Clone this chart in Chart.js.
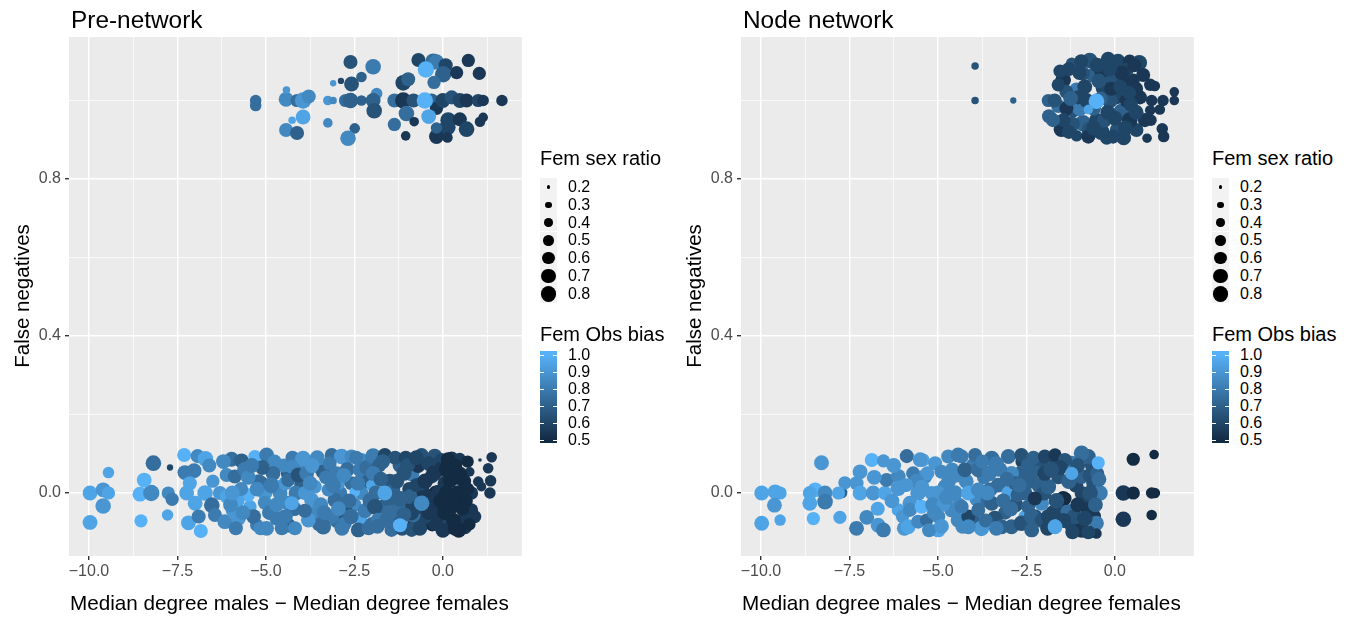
<!DOCTYPE html>
<html>
<head>
<meta charset="utf-8">
<script src="https://cdn.jsdelivr.net/npm/chart.js@4.4.0/dist/chart.umd.min.js"></script>
<style>
body { margin: 0; background: #fff; font-family: "Liberation Sans", Arial, sans-serif; }
#wrap { position: relative; width: 1354px; height: 617px; overflow: hidden; }
canvas { position: absolute; top: 0; }
.title { position: absolute; top: 6px; font-size: 24.4px; line-height: 28px; color: #000; white-space: nowrap; }
.xlab { position: absolute; top: 591px; font-size: 20.7px; line-height: 24px; white-space: nowrap; }
.ylab { position: absolute; top: 284px; width: 300px; font-size: 20.5px; line-height: 24px; text-align: center; transform: rotate(-90deg); white-space: nowrap; }
.leg { position: absolute; top: 0; width: 150px; height: 617px; }
.legtitle { position: absolute; left: 0; font-size: 20px; line-height: 24px; white-space: nowrap; }
.key { position: absolute; left: 0; width: 17px; height: 17px; background: #f2f2f2; }
.dot { position: absolute; background: #000; border-radius: 50%; }
.leglab { position: absolute; left: 28px; font-size: 16px; line-height: 18px; color: #000; }
.bar { position: absolute; left: 0; width: 17px; }
.btick { position: absolute; height: 1px; width: 4px; background: #fff; }
</style>
</head>
<body>
<div id="wrap">
  <canvas id="pre" width="530" height="617" style="left:0px"></canvas>
  <canvas id="node" width="530" height="617" style="left:672px"></canvas>
  <div class="title" style="left:71px">Pre-network</div>
  <div class="title" style="left:743px">Node network</div>
  <div class="xlab" style="left:70px">Median degree males − Median degree females</div>
  <div class="xlab" style="left:742px">Median degree males − Median degree females</div>
  <div class="ylab" style="left:-128px">False negatives</div>
  <div class="ylab" style="left:544px">False negatives</div>
  <div class="leg" id="legPre" style="left:540px"></div>
  <div class="leg" id="legNode" style="left:1212px"></div>
</div>
<script>
// each point: [median degree diff, false negatives, fem sex ratio, fem obs bias]
const preTop = [
  [-5.29,1.0,.55,.75],[-5.29,0.987,.55,.75],[-4.43,1.003,.75,.85],[-4.42,1.027,.35,.9],[-4.12,1.0,.65,.75],
  [-3.95,1.0,.85,.9],[-3.79,1.01,.7,.85],[-3.95,0.958,.75,.95],[-4.26,0.95,.35,.95],[-4.43,0.925,.7,.85],
  [-4.12,0.917,.7,.7],[-3.25,1.0,.45,.9],[-3.1,1.0,.35,.85],[-3.25,0.943,.45,.85],[-3.1,1.044,.3,.9],
  [-2.88,1.05,.3,.6],[-2.61,1.098,.7,.65],[-2.58,1.042,.75,.65],[-2.3,1.06,.5,.7],[-2.75,1.0,.65,.75],
  [-2.61,1.0,.8,.7],[-2.3,1.0,.5,.7],[-1.97,1.086,.8,.8],[-1.87,1.018,.55,.85],[-1.97,1.0,.75,.7],
  [-1.94,0.974,.8,.65],[-2.49,0.929,.5,.7],[-2.68,0.904,.8,.85],[-1.37,1.0,.7,.75],[-1.37,0.939,.65,.75],
  [-1.12,1.045,.8,.6],[-0.98,1.054,.7,.7],[-1.12,1.0,.85,.55],[-1.03,0.967,.8,.75],[-0.81,0.946,.45,.55],
  [-1.05,0.91,.45,.55],[-0.69,1.103,.7,.6],[-0.27,1.099,.85,.75],[-0.18,1.099,.75,.8],[0.08,1.09,.7,.6],
  [0.01,1.067,.85,.7],[-0.25,1.046,.65,.75],[0.39,1.071,.65,.55],[0.72,1.102,.65,.55],[1.03,1.069,.65,.55],
  [-0.83,1.0,.7,.65],[-0.32,1.0,.7,.7],[-0.18,0.98,.65,.55],[0.0,1.0,.75,.6],
  [0.25,1.008,.7,.65],[0.48,1.0,.75,.6],[0.67,1.0,.7,.55],[1.0,1.0,.65,.6],[1.14,1.0,.55,.55],
  [1.67,1.0,.55,.55],[0.15,0.95,.8,.6],[0.13,0.932,.85,.6],
  [0.48,0.952,.7,.55],[0.67,0.927,.8,.6],[-0.18,0.908,.75,.55],[0.13,0.906,.5,.55],[1.05,0.946,.5,.55],
  [1.14,0.957,.45,.55],[-0.18,0.93,.55,.7],[-0.48,1.079,.85,1.0],[-0.51,1.0,.85,1.0],[-0.4,0.959,.75,.95]
];
const preLow = [
  [-9.97,0.0,.75,.95],[-9.6,0.008,.75,.9],[-9.45,0.0,.65,.95],[-9.6,-0.033,.8,.9],[-9.45,0.052,.55,.95],
  [-9.97,-0.075,.75,.95],[-8.56,-0.003,.75,1.0],[-8.24,0.0,.85,.85],[-8.44,0.033,.75,1.0],[-8.18,0.076,.8,.75],
  [-7.71,0.065,.3,.6],[-8.53,-0.071,.65,1.0],[-7.76,0.0,.65,.85],[-7.65,-0.016,.65,.8],[-7.78,-0.056,.55,.95],
  [-7.31,0.097,.7,1.0],[-6.93,0.094,.7,.85],[-6.71,0.087,.8,.95],[-7.29,0.052,.75,.8],[-7.03,0.057,.75,.8],
  [-7.15,0.025,.7,.95],[-7.24,0.0,.75,.95],[-6.72,0.0,.8,.95],[-7.0,-0.026,.75,.95],[-6.53,-0.031,.8,.75],
  [-7.19,-0.076,.75,.95],[-6.84,-0.097,.7,1.0],[-6.44,-0.056,.7,.8],[-6.16,-0.073,.75,.85],[-6.11,0.046,.7,.85],
  [-6.5,0.03,.65,.9],[-6.3,0.0,.7,.9],[-6.6,0.07,.7,.85],[-6.9,-0.06,.7,.8],
  [-5.88,0.042,.7,.75],[-5.97,0.086,.75,.75],[-5.69,0.082,.75,.7],[-6.11,-0.009,.7,.95],[-5.92,-0.043,.8,.9],
  [-5.78,-0.065,.75,.9],[-5.45,-0.035,.65,.95],[-5.5,-0.005,.65,1.0],[-5.26,-0.082,.65,.8],[-5.31,0.093,.65,1.0],
  [-4.98,0.097,.75,.8],[-4.75,0.08,.7,.85],[-5.08,0.029,.45,.7],[-4.65,0.012,.85,.95],[-5.03,0.0,.75,.9],
  [-5.03,-0.025,.7,.85],[-4.7,-0.065,.7,.8],[-4.98,-0.09,.75,.85],[-4.37,0.05,.75,.7],[-4.37,-0.026,.75,.85],
  [-4.37,-0.082,.75,.7],[-5.6,0.06,.75,.8],[-5.2,0.03,.7,.75],[-4.9,-0.05,.75,.8],[-4.5,0.07,.7,.85],
  [-4.2,-0.04,.75,.75],[-5.8,-0.02,.7,.95],[-4.6,0.0,.75,.85],[-4.0,0.02,.7,.7],
  [-5.5,0.04,.75,.85],[-5.35,-0.06,.75,.75],[-5.7,0.01,.7,.85],[-5.15,-0.09,.7,.85],[-4.8,0.05,.75,.75],
  [-4.55,-0.09,.7,.8],[-4.25,0.09,.7,.8],[-4.45,0.025,.7,.9],[-5.85,-0.09,.7,.8],[-5.1,0.065,.75,.7],
  [-6.2,0.08,.75,.85],[-6.0,-0.03,.75,.85],[-5.65,-0.05,.75,.85],[-5.4,0.07,.75,.8],[-5.25,0.01,.75,.85],
  [-4.85,0.02,.8,.8],[-4.7,-0.03,.75,.85],[-4.45,-0.06,.75,.8],[-4.15,0.0,.75,.8],[-4.05,0.075,.7,.85],
  [-5.95,0.0,.75,.9],
  [-3.95,0.088,.8,.9],[-4.27,0.067,.7,.85],[-4.37,0.033,.7,.75],[-4.09,0.046,.75,.65],
  [-3.52,0.067,.7,.9],[-3.38,0.054,.75,.7],[-3.14,0.097,.7,.75],[-2.86,0.093,.8,.9],[-2.58,0.093,.7,.85],
  [-2.3,0.084,.7,.85],[-3.6,-0.05,.75,.85],[-3.3,0.04,.7,.8],[-3.0,-0.07,.75,.75],[-2.7,0.06,.75,.75],
  [-2.5,-0.03,.7,.85],[-2.2,0.03,.75,.7],[-2.9,0.0,.7,.8],[-3.5,-0.08,.7,.75],[-2.45,0.09,.7,.8],
  [-2.77,-0.048,.8,.65],[-2.34,-0.065,.7,.95],[-2.39,-0.094,.75,.7],[-2.77,-0.077,.7,.8],[-3.14,-0.06,.75,.8],
  [-3.38,-0.086,.8,.75],[-3.8,-0.069,.75,.9],[-4.18,-0.09,.7,.85],[-3.71,-0.018,.75,.9],[-4.27,-0.026,.7,.95],
  [-3.05,-0.018,.75,.75],[-2.96,0.025,.7,.9],[-2.58,0.025,.7,.75],[-3.24,0.008,.65,.85],[-3.62,0.016,.7,.9],
  [-3.9,0.0,.7,.9],[-2.34,0.059,.75,.8],[-2.01,0.02,.55,.95],[-2.3,0.0,.7,.85],[-2.49,0.003,.5,1.0],
  [-3.85,0.05,.75,.8],[-3.45,-0.03,.75,.85],[-3.2,0.075,.7,.8],[-2.65,-0.02,.75,.75],[-3.9,-0.045,.7,.75],
  [-2.2,-0.045,.75,.8],[-3.0,0.05,.7,.8],[-2.1,-0.09,.7,.75],
  [-3.75,0.025,.75,.85],[-3.55,0.09,.75,.85],[-3.35,-0.05,.75,.8],[-3.1,0.02,.8,.8],[-2.85,-0.09,.75,.8],
  [-2.8,0.045,.75,.85],[-2.6,-0.06,.8,.75],[-2.4,0.025,.75,.8],[-2.15,0.065,.75,.75],[-2.05,-0.02,.8,.75],
  [-2.95,-0.04,.75,.85],[-3.7,0.07,.75,.9],
  [-1.97,0.094,.8,.8],[-1.64,0.097,.7,.6],[-1.21,0.071,.75,.7],[-0.88,0.05,.8,.8],
  [-0.6,0.097,.7,.65],[-0.23,0.094,.75,.65],[-0.04,0.084,.7,.6],
  [-2.0,-0.08,.75,.75],[-1.8,0.07,.7,.7],[-1.5,0.03,.75,.65],[-1.3,-0.06,.7,.7],
  [-1.1,0.05,.75,.65],[-1.0,-0.02,.7,.6],[-0.8,-0.07,.75,.6],[-0.7,0.07,.75,.55],[-0.45,-0.03,.75,.55],
  [-0.3,-0.08,.7,.5],[-0.1,0.06,.75,.55],[-0.2,0.0,.75,.5],[-0.55,0.0,.75,.55],
  [-0.95,0.01,.7,.6],[-1.9,0.0,.75,.75],
  [-0.23,-0.077,.75,.55],[-0.51,-0.06,.75,.6],[-0.13,0.003,.7,.55],[-0.6,0.025,.7,.65],
  [-0.32,0.042,.7,.6],[-0.93,-0.009,.75,.7],[-0.84,-0.056,.75,.75],[-1.26,-0.035,.7,.75],
  [-0.88,-0.094,.7,.65],[-1.69,-0.035,.75,.75],[-1.4,0.008,.7,.7],
  [-1.92,-0.035,.8,.65],[-1.83,-0.069,.75,.8],[-1.45,-0.094,.7,.75],[-1.97,0.05,.75,.8],
  [-1.6,-0.07,.75,.75],[-1.15,-0.09,.75,.65],[-0.7,-0.035,.75,.6],[-0.4,0.075,.75,.6],[-1.35,0.09,.7,.65],
  [-1.75,0.035,.75,.7],[-0.15,-0.045,.75,.55],[-0.75,0.02,.7,.6],[-1.05,0.09,.7,.6],[-0.35,-0.015,.75,.55],
  [-1.55,-0.015,.75,.7],
  [-1.85,-0.085,.75,.75],[-1.7,0.08,.75,.7],[-1.5,-0.05,.8,.75],[-1.3,0.03,.75,.65],[-1.2,-0.015,.8,.7],
  [-1.0,0.07,.75,.65],[-0.9,-0.05,.8,.6],[-0.75,0.09,.75,.6],[-0.65,-0.09,.75,.6],[-0.5,0.03,.8,.55],
  [-0.4,-0.05,.75,.55],[-0.25,0.05,.8,.55],[-0.05,-0.02,.8,.5],[-0.1,-0.07,.8,.55],[-1.1,-0.055,.75,.7],
  [0.25,0.088,.7,.55],[0.48,0.088,.55,.55],
  [1.05,0.084,.2,.55],[1.38,0.091,.5,.55],[0.76,0.054,.45,.55],[1.28,0.063,.5,.55],[1.0,0.029,.5,.55],
  [1.35,0.031,.55,.55],[1.33,0.0,.55,.55],[1.09,0.016,.45,.55],[0.81,0.0,.65,.55],[0.43,0.0,.8,.5],
  [0.34,-0.022,.85,.5],[0.81,-0.043,.65,.55],[0.57,-0.069,.75,.55],[0.62,-0.086,.75,.55],[0.15,-0.086,.8,.6],
  [0.06,0.025,.75,.55],[0.05,-0.05,.75,.5],[0.2,0.03,.7,.5],[0.3,-0.07,.75,.5],
  [0.5,0.05,.65,.5],[0.65,-0.02,.7,.5],[0.9,-0.06,.65,.55],
  [0.1,0.06,.75,.5],[0.35,0.07,.7,.5],[0.6,0.03,.7,.5],[0.2,-0.04,.75,.5],[0.45,-0.095,.75,.5],
  [0.7,0.08,.6,.5],[0.0,-0.095,.75,.55],[0.1,0.0,.75,.5],
  [0.15,0.085,.75,.5],[0.25,-0.02,.8,.5],[0.4,0.04,.75,.5],[0.55,-0.04,.7,.5],[0.7,0.01,.65,.5],
  [0.35,-0.09,.75,.5],[0.75,-0.08,.6,.5],
  [-1.21,-0.082,.7,1.0],[-1.64,0.0,.75,.95],[-0.6,-0.026,.8,.85]
];
const nodeTop = [
  [-3.95,1.088,.35,.65],[-3.95,1.0,.35,.65],[-2.87,1.0,.3,.7],[-1.88,1.0,.65,.7],[-1.86,0.96,.7,.7],
  [-1.51,0.927,.8,.55],[-1.46,1.052,.8,.55],[-1.22,1.095,.55,.65],[-1.03,1.095,.5,.65],[-0.71,1.102,.8,.65],
  [-0.19,1.105,.75,.6],[0.09,1.1,.75,.6],[0.42,1.099,.7,.55],[0.69,1.096,.8,.6],[-0.61,1.065,.75,.7],
  [-0.14,1.052,.8,.65],[0.28,1.04,.75,.55],[0.52,1.052,.65,.55],[1.13,1.037,.5,.55],[1.68,1.022,.45,.55],
  [1.68,1.0,.45,.55],[1.36,1.0,.55,.55],[1.04,1.0,.55,.55],[0.71,1.008,.7,.55],[-1.08,1.026,.8,.8],
  [-1.37,1.022,.7,.65],[-1.6,0.986,.7,.75],[-1.18,0.976,.75,.65],[-0.9,0.942,.85,.7],[-0.71,0.925,.85,.65],
  [-1.08,0.91,.55,.6],[-0.38,0.92,.85,.6],[0.09,0.925,.85,.65],[-0.05,0.908,.7,.6],[0.52,0.967,.7,.6],
  [0.19,0.971,.85,.7],[0.05,1.008,.7,.6],[-0.14,1.0,.8,.65],[-0.33,1.031,.75,.6],[0.33,1.0,.7,.55],
  [0.61,0.925,.7,.6],[0.91,0.904,.45,.55],[1.34,0.928,.55,.55],[1.38,0.908,.55,.55],[1.02,0.95,.55,.55],
  [1.27,0.977,.5,.55],[1.0,0.975,.5,.55],[-0.9,1.069,.7,.65],[-0.38,1.073,.7,.55],[0.33,1.078,.7,.6],
  [0.05,1.044,.7,.65],[-0.99,0.98,.8,.8],[-1.04,1.008,.7,.6],[-1.37,0.98,.7,.55],[-0.75,0.908,.7,.55],
  [-0.23,0.904,.65,.6],[0.42,0.95,.8,.55],[-0.52,0.95,.75,.6],[-1.3,1.08,.7,.6],[-0.5,1.09,.75,.6],
  [0.2,1.07,.75,.55],[-0.3,0.95,.75,.65],[0.3,0.93,.75,.6],[-1.2,0.94,.75,.65],[-0.1,1.03,.7,.55],
  [0.6,1.03,.7,.55],[-0.8,1.0,.75,.6],[0.85,0.95,.7,.55],[-1.6,1.04,.65,.6],
  [-0.6,0.98,.75,.7],[-0.2,0.97,.75,.6],[0.4,1.02,.7,.6],[-1.0,1.07,.7,.6],[-0.4,1.005,.7,.7],
  [0.0,0.955,.75,.6],[-0.85,1.035,.75,.6],[0.15,1.035,.7,.6],[-1.45,0.95,.7,.6],[0.8,1.065,.7,.55],
  [-0.45,1.05,.75,.65],[-1.25,1.005,.75,.7],
  [-1.7,1.0,.7,.65],[-1.55,1.075,.65,.6],[-0.95,1.1,.7,.6],[0.55,1.09,.7,.55],[-0.15,1.08,.75,.6],
  [0.6,0.97,.75,.6],[-0.6,0.93,.75,.6],[-1.3,0.92,.7,.6],[0.25,0.905,.75,.6],[1.0,1.04,.6,.55],
  [-1.75,0.95,.7,.7],[0.45,0.99,.7,.6],
  [-0.52,0.998,.8,1.0],[-0.75,0.977,.45,.95]
];
const nodeLow = [
  [-9.98,0.0,.75,.95],[-9.6,0.003,.75,.95],[-9.46,0.0,.65,.95],[-9.62,-0.031,.75,.9],[-9.98,-0.077,.75,.95],
  [-9.46,-0.069,.55,.95],[-8.29,0.077,.75,.9],[-8.47,0.008,.75,1.0],[-8.62,0.0,.7,.95],[-8.19,0.0,.75,.85],
  [-8.19,-0.022,.8,.8],[-8.62,-0.026,.75,.95],[-8.52,-0.065,.65,1.0],[-7.77,-0.062,.65,.95],[-7.72,0.001,.55,.7],
  [-7.63,0.026,.65,.9],[-7.81,0.0,.65,.95],[-7.2,0.054,.75,.9],[-6.87,0.084,.7,1.0],[-6.54,0.082,.65,.9],
  [-7.3,0.025,.7,.9],[-7.2,0.0,.75,.95],[-6.83,0.0,.75,.9],[-6.5,0.0,.7,.95],[-6.45,0.033,.7,.8],
  [-6.12,0.042,.75,.85],[-5.88,0.094,.7,.75],[-7.3,-0.09,.75,.8],[-7.01,-0.062,.75,.85],[-6.69,-0.082,.75,.9],
  [-6.54,-0.094,.75,.8],[-6.12,-0.043,.65,.95],[-6.0,-0.06,.65,.9],
  [-6.8,0.04,.75,.9],[-6.3,-0.02,.75,.9],[-6.25,0.07,.75,.9],[-6.7,-0.04,.7,.95],[-5.95,-0.09,.75,.9],
  [-5.79,-0.026,.75,.9],[-5.79,-0.043,.7,.85],[-5.84,-0.086,.75,.95],
  [-5.56,-0.073,.7,.85],[-5.32,-0.069,.65,.75],[-4.99,-0.094,.75,.95],[-4.99,-0.06,.7,.85],[-5.46,-0.035,.7,1.0],
  [-5.42,0.084,.65,.95],[-5.08,0.076,.7,.9],[-4.9,0.054,.7,.85],[-4.71,0.093,.7,.85],[-4.43,0.097,.75,.8],
  [-5.7,0.05,.7,.8],[-5.37,0.042,.75,.85],[-6.12,0.012,.8,.9],[-5.56,0.0,.8,.9],[-5.18,0.0,.7,.9],
  [-4.8,0.016,.75,.85],[-4.52,0.0,.8,.85],[-4.61,-0.043,.75,.85],[-4.43,-0.069,.75,.85],
  [-4.7,0.03,.75,.85],[-4.4,-0.03,.7,.85],[-5.0,0.0,.75,.9],[-5.3,0.05,.7,.9],
  [-5.6,0.03,.75,.85],[-5.15,-0.03,.75,.85],[-4.85,-0.03,.7,.9],[-5.25,-0.095,.7,.85],[-4.6,0.06,.7,.85],
  [-5.9,0.02,.7,.9],
  [-5.5,0.085,.75,.9],[-5.45,0.015,.75,.9],[-5.1,-0.05,.75,.85],[-4.9,-0.085,.75,.9],[-4.75,-0.01,.8,.85],
  [-4.5,0.045,.75,.85],[-4.3,-0.085,.75,.85],[-4.2,0.03,.75,.85],[-4.0,0.07,.75,.8],[-3.9,-0.015,.75,.85],
  [-4.0,-0.07,.75,.7],[-3.7,0.04,.7,.8],[-3.3,0.02,.75,.75],
  [-3.1,-0.05,.7,.7],[-2.8,-0.03,.75,.65],[-2.4,0.03,.75,.7],[-2.1,0.07,.7,.65],
  [-3.6,-0.02,.7,.75],[-2.6,0.08,.75,.6],
  [-2.54,-0.06,.65,.95],[-2.54,0.0,.75,.7],[-2.64,0.05,.8,.7],[-2.92,0.05,.75,.85],[-3.01,0.0,.7,.95],
  [-2.92,-0.086,.75,.7],[-3.39,-0.065,.8,.65],[-3.2,-0.086,.75,.7],[-3.48,-0.026,.75,.7],[-3.53,0.008,.75,.75],
  [-3.48,0.088,.8,.75],[-3.01,0.093,.75,.75],[-2.64,0.097,.7,.65],[-3.95,0.097,.7,.75],[-4.33,0.093,.7,.8],
  [-4.24,0.059,.75,.7],[-3.86,0.059,.75,.75],[-4.14,0.0,.75,.95],[-3.86,0.008,.75,.85],[-4.14,-0.06,.7,.6],
  [-4.33,-0.035,.7,.8],[-3.77,-0.09,.8,.9],[-4.14,-0.086,.75,.85],[-3.86,-0.043,.7,.75],[-2.82,0.025,.7,.7],
  [-2.64,-0.077,.8,.65],[-2.35,-0.094,.75,.7],[-2.26,0.054,.7,.7],[-2.07,-0.026,.75,.85],[-2.26,-0.06,.75,.65],
  [-3.25,0.06,.75,.8],[-3.65,-0.07,.7,.75],[-2.75,-0.005,.7,.7],[-3.15,-0.02,.75,.75],[-2.45,-0.035,.7,.7],
  [-3.75,0.08,.7,.8],
  [-3.55,0.05,.8,.8],[-3.35,-0.09,.75,.8],[-3.35,0.075,.75,.8],[-3.05,0.035,.75,.75],[-2.95,-0.04,.8,.75],
  [-2.7,0.02,.75,.75],[-2.45,0.07,.75,.7],[-2.35,-0.06,.8,.7],[-2.15,0.02,.75,.7],[-2.05,-0.07,.75,.65],
  [-3.6,0.0,.75,.85],[-2.3,0.09,.7,.7],
  [-1.9,-0.09,.75,.6],[-1.6,0.04,.7,.65],[-1.5,-0.04,.75,.6],[-1.1,0.02,.75,.6],[-0.8,-0.03,.75,.6],
  [-0.65,0.07,.7,.65],[-0.6,-0.06,.75,.55],[-1.25,-0.08,.7,.6],[-2.0,0.0,.75,.65],[-1.7,0.09,.7,.6],
  [-0.75,0.093,.75,.7],[-0.61,0.025,.7,.65],
  [-0.42,0.0,.8,.8],[-0.75,-0.043,.8,.55],[-0.52,-0.077,.75,.8],[-0.94,-0.094,.8,.55],[-0.52,-0.103,.5,.55],
  [-1.46,-0.014,.75,.5],[-1.22,0.076,.75,.8],[-0.94,0.101,.8,.75],[-1.32,-0.048,.8,.75],
  [-1.98,0.093,.7,.6],[-1.69,0.097,.65,.55],[-1.88,0.016,.8,.7],[-1.98,0.05,.75,.6],
  [-1.88,-0.06,.75,.6],[-2.26,-0.014,.7,.55],[-1.41,-0.014,.65,.5],[-0.94,0.0,.7,.6],[-0.94,0.042,.75,.7],
  [-1.41,0.084,.7,.65],
  [-1.15,-0.06,.75,.65],[-0.7,0.045,.75,.65],[-1.75,-0.05,.75,.6],[-1.55,0.065,.75,.6],[-0.5,0.05,.7,.7],
  [-1.05,-0.03,.75,.55],
  [-1.8,0.06,.8,.65],[-1.65,-0.02,.8,.65],[-1.45,-0.07,.75,.6],[-1.3,0.03,.8,.7],[-1.05,0.07,.75,.65],
  [-0.85,-0.065,.8,.6],[-0.7,0.0,.8,.65],[-0.55,-0.03,.75,.7],[-0.45,0.035,.75,.75],[-1.2,-0.1,.7,.6],
  [-0.75,-0.1,.7,.6],
  [0.52,0.086,.65,.5],[1.11,0.098,.45,.5],[0.24,0.0,.8,.55],[0.52,0.0,.65,.5],[1.04,0.0,.55,.5],
  [1.13,0.0,.5,.5],[0.24,-0.067,.8,.55],[1.04,-0.056,.5,.5],
  [-1.69,-0.086,.75,.95],[-1.22,0.05,.65,.95],[-0.47,0.077,.65,1.0]
];
const xTicks = [-10, -7.5, -5, -2.5, 0];
const xMinor = [-8.75, -6.25, -3.75, -1.25, 1.25];
const yTicks = [0, 0.4, 0.8];
const yMinor = [0.2, 0.6, 1.0];
const sexRatioLevels = [0.2, 0.3, 0.4, 0.5, 0.6, 0.7, 0.8];
const biasLevels = [1.0, 0.9, 0.8, 0.7, 0.6, 0.5];

const lowCol = [19, 43, 67];    // #132B43
const highCol = [86, 177, 247]; // #56B1F7

function biasColor(b) {
  let t = (b - 0.5) / 0.5;
  t = Math.max(0, Math.min(1, t));
  const c = lowCol.map((v, i) => Math.round(v + (highCol[i] - v) * t));
  return 'rgb(' + c.join(',') + ')';
}

function sizeToRadius(s) {
  return 1.8 + 6 * (Math.sqrt(s) - Math.sqrt(0.2)) / (Math.sqrt(0.8) - Math.sqrt(0.2));
}

Chart.defaults.font.family = '"Liberation Sans", Arial, sans-serif';

const panelBg = {
  id: 'panelBg',
  beforeDraw(chart) {
    const a = chart.chartArea;
    chart.ctx.save();
    chart.ctx.fillStyle = '#ebebeb';
    chart.ctx.fillRect(a.left, a.top, a.right - a.left, a.bottom - a.top);
    chart.ctx.restore();
  }
};

function fmt(v) {
  return (v < 0 ? '\u2212' : '') + Math.abs(v).toFixed(1);
}

function makePanel(id, points) {
  const majorX = v => xTicks.some(t => Math.abs(t - v) < 1e-6);
  const majorY = v => yTicks.some(t => Math.abs(t - v) < 1e-6);
  new Chart(document.getElementById(id), {
    type: 'bubble',
    data: {
      datasets: [{
        data: points.map(p => ({ x: p[0], y: p[1], r: sizeToRadius(p[2]) })),
        backgroundColor: points.map(p => biasColor(p[3])),
        borderWidth: 0,
        hoverBorderWidth: 0
      }]
    },
    options: {
      responsive: false,
      animation: false,
      events: [],
      layout: { padding: { top: 37, right: 8, left: 0, bottom: 0 } },
      plugins: { legend: { display: false }, tooltip: { enabled: false } },
      scales: {
        x: {
          type: 'linear', min: -10.565, max: 2.232,
          afterBuildTicks: s => { s.ticks = xTicks.concat(xMinor).sort((a, b) => a - b).map(v => ({ value: v })); },
          afterFit: s => { s.height = 61; },
          border: { display: false },
          grid: {
            color: '#ffffff',
            lineWidth: c => (c.tick && majorX(c.tick.value)) ? 1.4 : 0.7,
            tickColor: c => (c.tick && majorX(c.tick.value)) ? '#333333' : 'rgba(0,0,0,0)',
            tickLength: 4
          },
          ticks: {
            autoSkip: false, maxRotation: 0, padding: 2,
            color: '#4d4d4d', font: { size: 16 },
            callback: v => majorX(v) ? fmt(v) : ''
          }
        },
        y: {
          type: 'linear', min: -0.1605, max: 1.1618,
          afterBuildTicks: s => { s.ticks = yTicks.concat(yMinor).sort((a, b) => a - b).map(v => ({ value: v })); },
          afterFit: s => { s.width = 69; },
          border: { display: false },
          grid: {
            color: '#ffffff',
            lineWidth: c => (c.tick && majorY(c.tick.value)) ? 1.4 : 0.7,
            tickColor: c => (c.tick && majorY(c.tick.value)) ? '#333333' : 'rgba(0,0,0,0)',
            tickLength: 4
          },
          ticks: {
            autoSkip: false, padding: 4,
            color: '#4d4d4d', font: { size: 16 },
            callback: v => majorY(v) ? v.toFixed(1) : ''
          }
        }
      }
    },
    plugins: [panelBg]
  });
}

function makeLegend(id) {
  const el = document.getElementById(id);
  let html = '<div class="legtitle" style="top:146px">Fem sex ratio</div>';
  sexRatioLevels.forEach((s, i) => {
    const cy = 187 + i * 17.8;
    const r = sizeToRadius(s);
    html += '<div class="key" style="top:' + (cy - 8.9) + 'px;height:17.8px"></div>';
    html += '<div class="dot" style="left:' + (8.5 - r) + 'px;top:' + (cy - r) + 'px;width:' + (2 * r) + 'px;height:' + (2 * r) + 'px"></div>';
    html += '<div class="leglab" style="top:' + (cy - 9) + 'px">' + s.toFixed(1) + '</div>';
  });
  html += '<div class="legtitle" style="top:322px">Fem Obs bias</div>';
  const yOf = v => 440 - (v - 0.5) * 170;
  html += '<div class="bar" style="top:351px;height:92px;background:linear-gradient(to bottom,' +
    biasColor(1.0) + ' 0%,' + biasColor(1.0) + ' 4%,' + biasColor(0.5) + ' 97%,' + biasColor(0.5) + ' 100%)"></div>';
  biasLevels.forEach(b => {
    const y = yOf(b);
    html += '<div class="btick" style="left:0;top:' + (y - 0.5) + 'px"></div>';
    html += '<div class="btick" style="left:13px;top:' + (y - 0.5) + 'px"></div>';
    html += '<div class="leglab" style="top:' + (y - 9) + 'px">' + b.toFixed(1) + '</div>';
  });
  el.innerHTML = html;
}

makePanel('pre', preTop.concat(preLow));
makePanel('node', nodeTop.concat(nodeLow));
makeLegend('legPre');
makeLegend('legNode');
</script>
</body>
</html>
